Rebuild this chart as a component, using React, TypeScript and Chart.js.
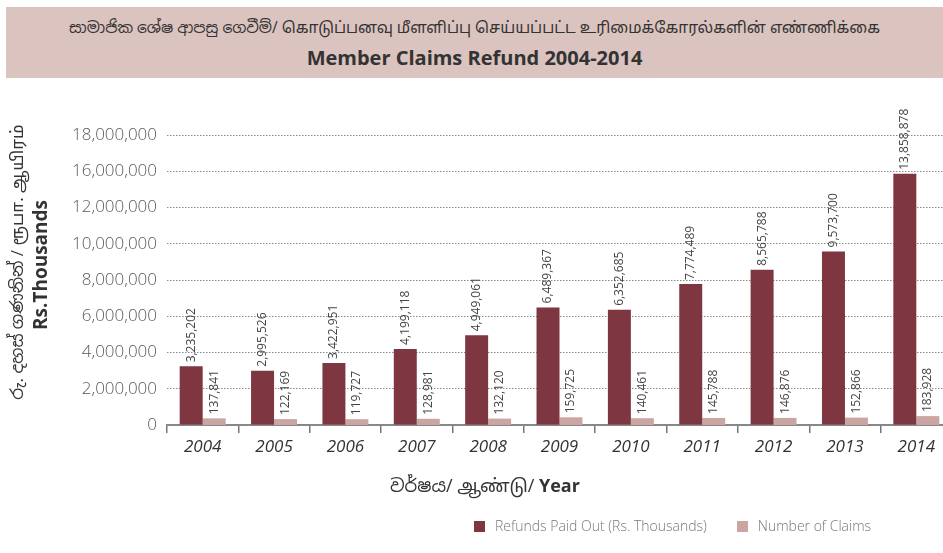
import React, { useEffect, useRef } from "react";
import { Chart, registerables } from "chart.js";
Chart.register(...registerables);

const years = ["2004", "2005", "2006", "2007", "2008", "2009", "2010", "2011", "2012", "2013", "2014"];
const refunds = [3235202, 2995526, 3422951, 4199118, 4949061, 6489367, 6352685, 7774489, 8565788, 9573700, 13858878];
const claims = [137841, 122169, 119727, 128981, 132120, 159725, 140461, 145788, 146876, 152866, 183928];
const yTickLabels = ["0", "2,000,000", "4,000,000", "6,000,000", "8,000,000", "10,000,000", "12,000,000", "16,000,000", "18,000,000"];

const seriesNames = ["Refunds Paid Out (Rs. Thousands)", "Number of Claims"];
const seriesColors = ["#7e3641", "#caa5a1"];

const titleLine1 = "සාමාජික ශේෂ ආපසු ගෙවීම්/ கொடுப்பனவு மீளளிப்பு செய்யப்பட்ட உரிமைக்கோரல்களின் எண்ணிக்கை";
const titleLine2 = "Member Claims Refund 2004-2014";
const yTitle1 = "රු. දහස් ගණනින් / ரூபா. ஆயிரம்";
const yTitle2 = "Rs.Thousands";
const xTitleLocal = "වර්ෂය/ ஆண்டு/ ";
const xTitleEn = "Year";

const FONT = '"Open Sans", "Noto Sans", "Noto Sans Sinhala", "Noto Sans Tamil", sans-serif';

const barLabels = {
  id: "barLabels",
  afterDatasetsDraw(chart: any) {
    const ctx = chart.ctx;
    chart.data.datasets.forEach((ds: any, di: number) => {
      const meta = chart.getDatasetMeta(di);
      meta.data.forEach((bar: any, i: number) => {
        const v = ds.data[i] as number;
        ctx.save();
        ctx.translate(bar.x, bar.y - 4);
        ctx.rotate(-Math.PI / 2);
        ctx.textAlign = "left";
        ctx.textBaseline = "middle";
        ctx.font = `12px ${FONT}`;
        ctx.fillStyle = "#444";
        ctx.fillText(v.toLocaleString("en-US"), 0, 0);
        ctx.restore();
      });
    });
  },
};

export default function App() {
  const ref = useRef<HTMLCanvasElement>(null);
  useEffect(() => {
    if (!ref.current) return;
    const chart = new Chart(ref.current, {
      type: "bar",
      data: {
        labels: years,
        datasets: [
          { label: seriesNames[0], data: refunds, backgroundColor: seriesColors[0], yAxisID: "y" },
          { label: seriesNames[1], data: claims, backgroundColor: seriesColors[1], yAxisID: "y1" },
        ],
      },
      options: {
        animation: false,
        responsive: false,
        layout: { padding: { left: 0, right: 3, top: 135, bottom: 88 } },
        datasets: { bar: { categoryPercentage: 0.644, barPercentage: 1 } } as any,
        plugins: { legend: { display: false }, tooltip: { enabled: false } },
        scales: {
          x: {
            offset: true,
            grid: { offset: true, drawOnChartArea: false, drawTicks: true, tickLength: 8, color: "#777", lineWidth: 1.5 },
            border: { display: true, color: "#888", width: 2 },
            ticks: { font: { family: FONT, size: 17, style: "italic" }, color: "#333", padding: 4 },
            afterFit: (s: any) => { s.height = 40; },
          },
          y: {
            min: 0,
            max: 16000000,
            grid: { color: "#888", lineWidth: 1, drawTicks: false },
            border: { display: false, dash: [1.5, 1.5] },
            ticks: {
              stepSize: 2000000,
              padding: 10,
              font: { family: FONT, size: 17, weight: 300 as any },
              color: "#5a5a5a",
              callback: (_v: any, i: number) => yTickLabels[i],
            },
            afterFit: (s: any) => { s.width = 167; },
          },
          y1: {
            display: false,
            min: 0,
            max: 6000000,
            grid: { display: false },
          },
        },
      },
      plugins: [barLabels],
    });
    return () => chart.destroy();
  }, []);

  return (
    <div style={{ position: "absolute", left: 0, top: 0, width: 943, height: 553, overflow: "hidden", background: "#fff", fontFamily: FONT }}>
      <div style={{ position: "absolute", left: 6, top: 7, width: 937, height: 71, background: "#dbc3bf", color: "#333", textAlign: "center" }}>
        <div style={{ position: "absolute", left: 0, right: 0, top: 8, fontSize: 15.5, lineHeight: "24px" }}>{titleLine1}</div>
        <div style={{ position: "absolute", left: 0, right: 0, top: 38, fontSize: 20, fontWeight: 700, lineHeight: "26px" }}>{titleLine2}</div>
      </div>
      <canvas ref={ref} width={955} height={553} style={{ position: "absolute", left: 0, top: 0, width: 955, height: 553 }} />
      <div style={{ position: "absolute", left: 17, top: 262, width: 0, height: 0 }}>
        <div style={{ position: "absolute", transform: "translate(-50%,-50%) rotate(-90deg)", whiteSpace: "nowrap", fontSize: 17, color: "#333", lineHeight: "22px" }}>{yTitle1}</div>
      </div>
      <div style={{ position: "absolute", left: 40, top: 265, width: 0, height: 0 }}>
        <div style={{ position: "absolute", transform: "translate(-50%,-50%) rotate(-90deg)", whiteSpace: "nowrap", fontSize: 19, fontWeight: 700, color: "#333", lineHeight: "24px" }}>{yTitle2}</div>
      </div>
      <div style={{ position: "absolute", left: 390, top: 472, whiteSpace: "nowrap", fontSize: 18, color: "#333", lineHeight: "26px" }}>
        {xTitleLocal}<b>{xTitleEn}</b>
      </div>
      <div style={{ position: "absolute", left: 474, top: 515, display: "flex", alignItems: "center", whiteSpace: "nowrap", fontSize: 14, color: "#777", fontWeight: 300, lineHeight: "22px" }}>
        {seriesNames.map((n, i) => (
          <div key={n} style={{ display: "flex", alignItems: "center", marginRight: 30 }}>
            <span style={{ display: "inline-block", width: 11, height: 11, background: seriesColors[i], marginRight: 10 }} />
            <span>{n}</span>
          </div>
        ))}
      </div>
    </div>
  );
}
